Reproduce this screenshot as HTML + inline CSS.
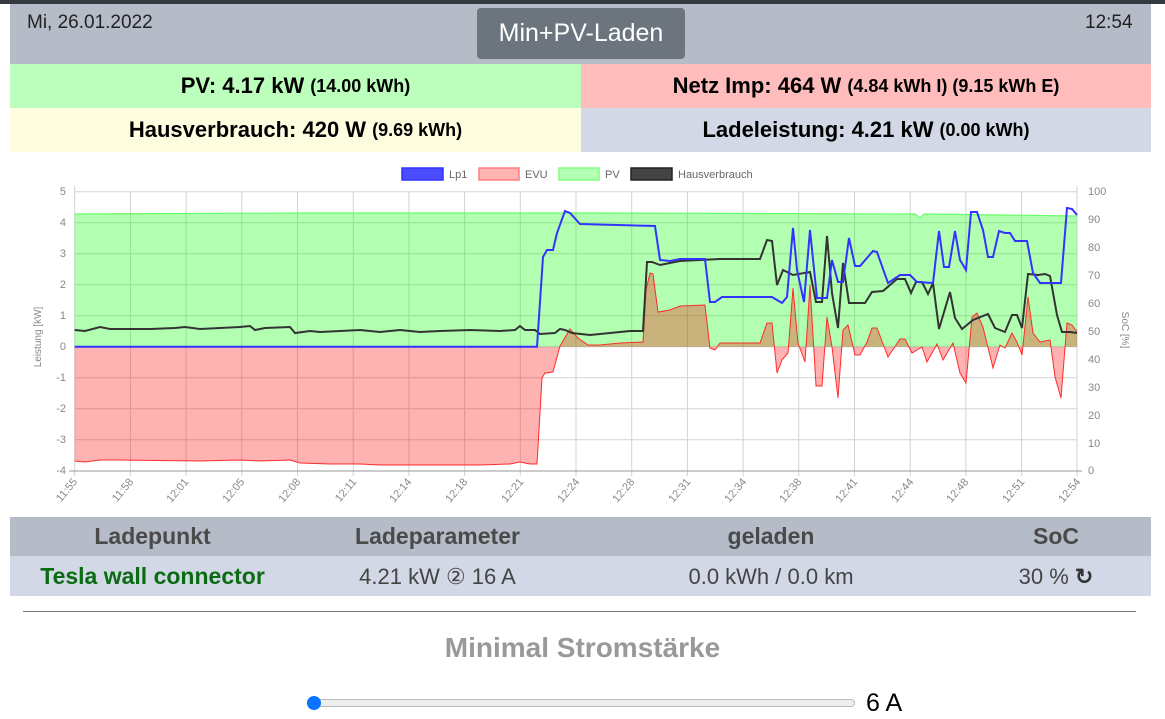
<!DOCTYPE html>
<html><head><meta charset="utf-8">
<style>
*{margin:0;padding:0;box-sizing:border-box}
body{width:1165px;height:719px;overflow:hidden;background:#fff;font-family:"Liberation Sans",sans-serif;position:relative}
.abs{position:absolute}
.bar{left:0;top:0;width:1165px;height:4px;background:#343a40}
.hdr{left:10px;top:4px;width:1141px;height:60px;background:#b6bbc8}
.cell{position:absolute;height:44px;display:flex;align-items:center;justify-content:center;font-weight:bold;font-size:22px;color:#000}
.cell small{font-size:18px;margin-left:6px}
.th,.td{position:absolute;font-size:23px;text-align:center}
</style></head><body>
<div class="abs bar"></div>
<div class="abs hdr"></div>
<div class="abs" style="left:27px;top:12px;font-size:19px;color:#222">Mi, 26.01.2022</div>
<div class="abs" style="left:1085px;top:12px;font-size:19px;color:#222">12:54</div>
<div class="abs" style="left:477px;top:8px;width:208px;height:51px;background:#6c757d;border-radius:4px;color:#fff;font-size:25px;display:flex;align-items:center;justify-content:center">Min+PV-Laden</div>
<div class="cell" style="left:10px;top:64px;width:571px;background:#bcffbc">PV: 4.17 kW<small>(14.00 kWh)</small></div>
<div class="cell" style="left:581px;top:64px;width:570px;background:#ffbcbc">Netz Imp: 464 W<small>(4.84 kWh I) (9.15 kWh E)</small></div>
<div class="cell" style="left:10px;top:108px;width:571px;background:#fffde0">Hausverbrauch: 420 W<small>(9.69 kWh)</small></div>
<div class="cell" style="left:581px;top:108px;width:570px;background:#d2d8e6">Ladeleistung: 4.21 kW<small>(0.00 kWh)</small></div>

<svg class="abs" style="left:0;top:0" width="1165" height="719" font-family="Liberation Sans, sans-serif">
<g stroke="#d3d3d3" stroke-width="1">
<line x1="74.7" y1="191.7" x2="1077" y2="191.7"/><line x1="74.7" y1="222.7" x2="1077" y2="222.7"/><line x1="74.7" y1="253.7" x2="1077" y2="253.7"/><line x1="74.7" y1="284.7" x2="1077" y2="284.7"/><line x1="74.7" y1="315.7" x2="1077" y2="315.7"/><line x1="74.7" y1="346.7" x2="1077" y2="346.7"/><line x1="74.7" y1="377.7" x2="1077" y2="377.7"/><line x1="74.7" y1="408.7" x2="1077" y2="408.7"/><line x1="74.7" y1="439.7" x2="1077" y2="439.7"/>
<line x1="130.4" y1="191.7" x2="130.4" y2="476"/><line x1="186.1" y1="191.7" x2="186.1" y2="476"/><line x1="241.8" y1="191.7" x2="241.8" y2="476"/><line x1="297.5" y1="191.7" x2="297.5" y2="476"/><line x1="353.2" y1="191.7" x2="353.2" y2="476"/><line x1="408.9" y1="191.7" x2="408.9" y2="476"/><line x1="464.6" y1="191.7" x2="464.6" y2="476"/><line x1="520.3" y1="191.7" x2="520.3" y2="476"/><line x1="576" y1="191.7" x2="576" y2="476"/><line x1="631.7" y1="191.7" x2="631.7" y2="476"/><line x1="687.4" y1="191.7" x2="687.4" y2="476"/><line x1="743.1" y1="191.7" x2="743.1" y2="476"/><line x1="798.8" y1="191.7" x2="798.8" y2="476"/><line x1="854.5" y1="191.7" x2="854.5" y2="476"/><line x1="910.2" y1="191.7" x2="910.2" y2="476"/><line x1="965.9" y1="191.7" x2="965.9" y2="476"/><line x1="1021.6" y1="191.7" x2="1021.6" y2="476"/>
<line x1="74.7" y1="186" x2="74.7" y2="476"/><line x1="1077" y1="186" x2="1077" y2="476"/>
</g>
<line x1="69" y1="471" x2="1082" y2="471" stroke="#999"/>
<!-- PV -->
<path d="M74.7,214 L300,213 L600,213 L915,214 L920,218 L924,214 L1077,216 L1077,346.7 L74.7,346.7Z" fill="rgba(0,255,0,0.3)" stroke="none"/>
<path d="M74.7,214 L300,213 L600,213 L915,214 L920,218 L924,214 L1077,216" fill="none" stroke="#66ff66" stroke-width="1.2"/>
<!-- EVU -->
<path id="evu" d="M74.7,461 L85,462 L100,460 L120,460 L200,461 L240,460 L260,461 L290,460 L300,463 L330,464 L360,464 L380,465 L420,465 L480,465 L510,464 L520,462 L530,464 L537,464 L542,378 L545,373 L553,372 L560,346 L570,329 L578,338 L588,345 L600,345 L620,343 L643,342 L646,290 L650,273 L653,274 L658,312 L670,310 L680,306 L705,305 L710,348 L715,350 L720,343 L760,343 L767,323 L772,323 L777,373 L782,360 L788,353 L793,288 L798,343 L805,362 L810,285 L816,386 L822,386 L827,317 L832,347 L838,398 L843,330 L848,325 L855,355 L860,355 L867,342 L872,328 L877,328 L888,357 L900,339 L905,339 L912,353 L922,347 L927,362 L937,344 L943,360 L953,343 L960,373 L966,383 L972,317 L977,313 L983,327 L993,368 L1000,345 L1005,348 L1012,333 L1017,342 L1022,355 L1028,297 L1033,333 L1040,342 L1050,340 L1055,377 L1061,398 L1067,323 L1072,325 L1077,332" fill="none" stroke="#ff3333" stroke-width="1"/>
<path d="M74.7,346.7 L74.7,461 L85,462 L100,460 L120,460 L200,461 L240,460 L260,461 L290,460 L300,463 L330,464 L360,464 L380,465 L420,465 L480,465 L510,464 L520,462 L530,464 L537,464 L542,378 L545,373 L553,372 L560,346 L570,329 L578,338 L588,345 L600,345 L620,343 L643,342 L646,290 L650,273 L653,274 L658,312 L670,310 L680,306 L705,305 L710,348 L715,350 L720,343 L760,343 L767,323 L772,323 L777,373 L782,360 L788,353 L793,288 L798,343 L805,362 L810,285 L816,386 L822,386 L827,317 L832,347 L838,398 L843,330 L848,325 L855,355 L860,355 L867,342 L872,328 L877,328 L888,357 L900,339 L905,339 L912,353 L922,347 L927,362 L937,344 L943,360 L953,343 L960,373 L966,383 L972,317 L977,313 L983,327 L993,368 L1000,345 L1005,348 L1012,333 L1017,342 L1022,355 L1028,297 L1033,333 L1040,342 L1050,340 L1055,377 L1061,398 L1067,323 L1072,325 L1077,332 L1077,346.7Z" fill="rgba(255,0,0,0.3)" stroke="none"/>
<!-- Haus -->
<path d="M74.7,330 L85,331 L100,327 L110,329 L150,329 L175,328 L185,327 L200,329 L240,327 L250,326 L255,330 L265,328 L290,327 L295,333 L310,331 L320,332 L340,331 L360,330 L380,332 L400,330 L420,332 L440,331 L470,330 L500,331 L515,330 L520,326 L525,330 L535,330 L540,334 L555,333 L560,329 L565,330 L572,333 L590,335 L610,333 L630,331 L643,331 L647,262 L652,262 L660,265 L680,261 L720,259 L760,259 L767,240 L772,241 L777,285 L783,270 L793,275 L810,272 L816,302 L822,302 L827,236 L832,293 L838,328 L843,263 L849,303 L865,303 L872,292 L883,291 L897,279 L905,279 L911,293 L916,282 L922,282 L928,294 L933,283 L939,329 L950,292 L955,318 L962,329 L973,320 L988,314 L995,328 L1005,332 L1012,315 L1017,315 L1022,328 L1028,274 L1038,275 L1045,274 L1050,276 L1057,315 L1062,332 L1070,332 L1077,333" fill="none" stroke="#333" stroke-width="2"/>
<!-- Lp1 -->
<path d="M74.7,346.7 L537,346.7 L543,257 L547,250 L553,250 L557,233 L565,211 L570,213 L580,224 L655,226 L660,260 L670,261 L680,259 L705,259 L710,302 L715,302 L722,297 L760,297 L772,297 L782,303 L787,297 L793,228 L797,270 L804,302 L810,230 L817,298 L827,298 L832,260 L838,282 L843,282 L849,238 L855,266 L860,266 L873,251 L877,252 L888,283 L900,275 L910,275 L917,282 L933,283 L939,231 L944,267 L949,267 L955,231 L960,260 L966,270 L971,212 L977,212 L983,230 L988,257 L993,257 L999,231 L1005,233 L1010,233 L1015,241 L1027,241 L1033,273 L1040,283 L1061,283 L1067,208 L1072,209 L1077,215" fill="none" stroke="#3333ff" stroke-width="2"/>
<!-- legend -->
<g font-size="11" fill="#666">
<rect x="402" y="168" width="41" height="12" fill="rgba(0,0,255,0.7)" stroke="#3333ff" stroke-width="1.5"/><text x="449" y="178">Lp1</text>
<rect x="479" y="168" width="40" height="12" fill="#ffb3b3" stroke="#ff8080" stroke-width="1.5"/><text x="525" y="178">EVU</text>
<rect x="559" y="168" width="40" height="12" fill="#b3ffb3" stroke="#80ff80" stroke-width="1.5"/><text x="605" y="178">PV</text>
<rect x="631" y="168" width="41" height="12" fill="#444" stroke="#222" stroke-width="1.5"/><text x="678" y="178">Hausverbrauch</text>
</g>
<g font-size="11" fill="#888" text-anchor="end">
<text x="66" y="195">5</text><text x="66" y="226">4</text><text x="66" y="257">3</text><text x="66" y="288">2</text><text x="66" y="319">1</text><text x="66" y="350">0</text><text x="66" y="381">-1</text><text x="66" y="412">-2</text><text x="66" y="443">-3</text><text x="66" y="474">-4</text>
</g>
<g font-size="11" fill="#888">
<text x="1088" y="195">100</text><text x="1088" y="223">90</text><text x="1088" y="251">80</text><text x="1088" y="279">70</text><text x="1088" y="307">60</text><text x="1088" y="335">50</text><text x="1088" y="363">40</text><text x="1088" y="391">30</text><text x="1088" y="419">20</text><text x="1088" y="447">10</text><text x="1088" y="474">0</text>
</g>
<text transform="translate(41,337) rotate(-90)" font-size="10" fill="#888" text-anchor="middle">Leistung [kW]</text>
<text transform="translate(1122,330) rotate(90)" font-size="10" fill="#888" text-anchor="middle">SoC [%]</text>
<g font-size="11" fill="#888" text-anchor="end">
<text transform="translate(78,482) rotate(-50)">11:55</text><text transform="translate(134,482) rotate(-50)">11:58</text><text transform="translate(189,482) rotate(-50)">12:01</text><text transform="translate(245,482) rotate(-50)">12:05</text><text transform="translate(301,482) rotate(-50)">12:08</text><text transform="translate(357,482) rotate(-50)">12:11</text><text transform="translate(412,482) rotate(-50)">12:14</text><text transform="translate(468,482) rotate(-50)">12:18</text><text transform="translate(524,482) rotate(-50)">12:21</text><text transform="translate(580,482) rotate(-50)">12:24</text><text transform="translate(635,482) rotate(-50)">12:28</text><text transform="translate(691,482) rotate(-50)">12:31</text><text transform="translate(747,482) rotate(-50)">12:34</text><text transform="translate(802,482) rotate(-50)">12:38</text><text transform="translate(858,482) rotate(-50)">12:41</text><text transform="translate(914,482) rotate(-50)">12:44</text><text transform="translate(969,482) rotate(-50)">12:48</text><text transform="translate(1025,482) rotate(-50)">12:51</text><text transform="translate(1081,482) rotate(-50)">12:54</text>
</g>
</svg>

<div class="abs" style="left:10px;top:517px;width:1141px;height:39px;background:#b6bbc8"></div>
<div class="abs" style="left:10px;top:556px;width:1141px;height:40px;background:#d2d8e6"></div>
<div class="th" style="left:10px;top:523px;width:285px;font-weight:bold;color:#4a4a4a">Ladepunkt</div>
<div class="th" style="left:295px;top:523px;width:285px;font-weight:bold;color:#4a4a4a">Ladeparameter</div>
<div class="th" style="left:581px;top:523px;width:380px;font-weight:bold;color:#4a4a4a">geladen</div>
<div class="th" style="left:961px;top:523px;width:190px;font-weight:bold;color:#4a4a4a">SoC</div>
<div class="td" style="left:10px;top:563px;width:285px;font-weight:bold;color:#0b6b12">Tesla wall connector</div>
<div class="td" style="left:295px;top:564px;width:285px;color:#444;font-size:22px">4.21 kW ② 16 A</div>
<div class="td" style="left:581px;top:564px;width:380px;color:#444;font-size:22px">0.0 kWh / 0.0 km</div>
<div class="td" style="left:961px;top:564px;width:190px;color:#444;font-size:22px">30 % <b style="color:#333">&#8635;</b></div>
<div class="abs" style="left:23px;top:611px;width:1113px;height:1px;background:#777"></div>
<div class="abs" style="left:0;top:632px;width:1165px;text-align:center;font-size:28px;font-weight:bold;color:#999">Minimal Stromstärke</div>
<div class="abs" style="left:314px;top:699px;width:541px;height:8px;border:1px solid #bbb;border-radius:4px;background:#eee"></div>
<div class="abs" style="left:307px;top:696px;width:14px;height:14px;border-radius:50%;background:#0a74ff"></div>
<div class="abs" style="left:866px;top:689px;font-size:25px;color:#000">6 A</div>
</body></html>
